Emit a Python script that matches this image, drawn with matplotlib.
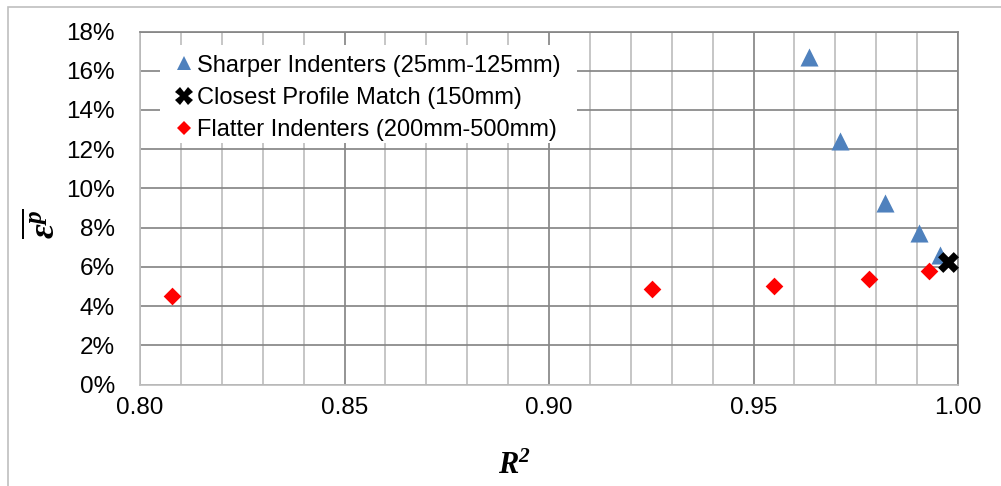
import matplotlib
matplotlib.use("Agg")
import matplotlib.pyplot as plt
from matplotlib.lines import Line2D
from matplotlib.patches import Rectangle
from matplotlib.ticker import MultipleLocator, FuncFormatter

# Mean plastic strain versus R^2 for each indenter profile
sharper_r2 = [0.9635, 0.9712, 0.9821, 0.9905, 0.9955]
sharper_eps = [16.7, 12.4, 9.27, 7.74, 6.6]

closest_r2 = [0.9976]
closest_eps = [6.24]

flatter_r2 = [0.8078, 0.9251, 0.9551, 0.9782, 0.9930]
flatter_eps = [4.49, 4.88, 5.03, 5.37, 5.81]

series_labels = ["Sharper Indenters (25mm-125mm)",
                 "Closest Profile Match (150mm)",
                 "Flatter Indenters (200mm-500mm)"]

plt.rcParams["font.family"] = ["Liberation Sans", "DejaVu Sans"]
plt.rcParams["mathtext.fontset"] = "custom"
plt.rcParams["mathtext.rm"] = "Liberation Serif"
plt.rcParams["mathtext.it"] = "Liberation Serif:italic"
plt.rcParams["mathtext.bf"] = "Liberation Serif:bold"
plt.rcParams["mathtext.bfit"] = "Liberation Serif:italic:bold"

W, H = 1001, 486
fig = plt.figure(figsize=(W / 100, H / 100), dpi=100)
ax = fig.add_axes([140 / W, 1 - 384.5 / H, (958 - 140) / W, (384.5 - 31.5) / H])

BLUE = "#4F81BD"
RED = "#FF0000"
DARK = "#868686"
LIGHT = "#BFBFBF"

ax.scatter(sharper_r2, sharper_eps, marker="^", s=13 ** 2, color=BLUE,
           linewidths=0, zorder=4)
ax.scatter(flatter_r2, flatter_eps, marker="D", s=9 ** 2, color=RED,
           linewidths=0, zorder=4)
ax.scatter(closest_r2, closest_eps, marker="X", s=15 ** 2, color="black",
           linewidths=0, zorder=5, clip_on=False)

ax.set_xlim(0.80, 1.00)
ax.set_ylim(0, 18)
ax.xaxis.set_major_locator(MultipleLocator(0.05))
ax.xaxis.set_minor_locator(MultipleLocator(0.01))
ax.yaxis.set_major_locator(MultipleLocator(2))
ax.xaxis.set_major_formatter(FuncFormatter(lambda v, p: f"{v:.2f}"))
ax.yaxis.set_major_formatter(FuncFormatter(lambda v, p: f"{v:.0f}%"))

ax.set_axisbelow(True)
ax.grid(which="minor", axis="x", color=LIGHT, linewidth=1.25)
ax.grid(which="major", axis="x", color=DARK, linewidth=1.25)
ax.grid(which="major", axis="y", color=DARK, linewidth=1.25)

for side in ("left", "bottom"):
    ax.spines[side].set_color(LIGHT)
    ax.spines[side].set_linewidth(1.25)
for side in ("top", "right"):
    ax.spines[side].set_color(DARK)
    ax.spines[side].set_linewidth(1.25)

ax.tick_params(which="both", length=0)
ax.tick_params(axis="y", pad=18, labelsize=17.5)
ax.tick_params(axis="x", pad=9, labelsize=17.5)

# white panel behind the legend
to_ax = ax.transAxes.inverted()
(x0, y0) = to_ax.transform((160, H - 143))
(x1, y1) = to_ax.transform((577, H - 45))
ax.add_patch(Rectangle((x0, y0), x1 - x0, y1 - y0, transform=ax.transAxes,
                       facecolor="white", edgecolor="none", zorder=1.5))

handles = [
    Line2D([], [], linestyle="none", marker="^", markersize=10, color=BLUE,
           markeredgewidth=0),
    Line2D([], [], linestyle="none", marker="X", markersize=12.5, color="black",
           markeredgewidth=0),
    Line2D([], [], linestyle="none", marker="D", markersize=7, color=RED,
           markeredgewidth=0),
]
(lx, ly) = to_ax.transform((170, H - 50))
ax.legend(handles, series_labels, loc="upper left", bbox_to_anchor=(lx, ly),
          frameon=False, fontsize=17, handlelength=0.75, handletextpad=0.2,
          labelspacing=0.43, borderpad=0.2, borderaxespad=0)

fig.text(44 / W, 1 - 224 / H, r"$\overline{\mathbfit{\varepsilon}^{\mathbfit{p}}}$",
         rotation=90, ha="center", va="center", fontsize=26)
fig.text(514 / W, 1 - 466 / H, r"$\mathbfit{R}^{\mathbfit{2}}$",
         ha="center", va="center", fontsize=22)

# outer chart border
fig.add_artist(Rectangle((8 / W, -0.1), 1.2, 1 - 6.5 / H + 0.1,
                         transform=fig.transFigure, facecolor="none",
                         edgecolor=LIGHT, linewidth=1.2, clip_on=False))

fig.savefig("out.png", dpi=100)
